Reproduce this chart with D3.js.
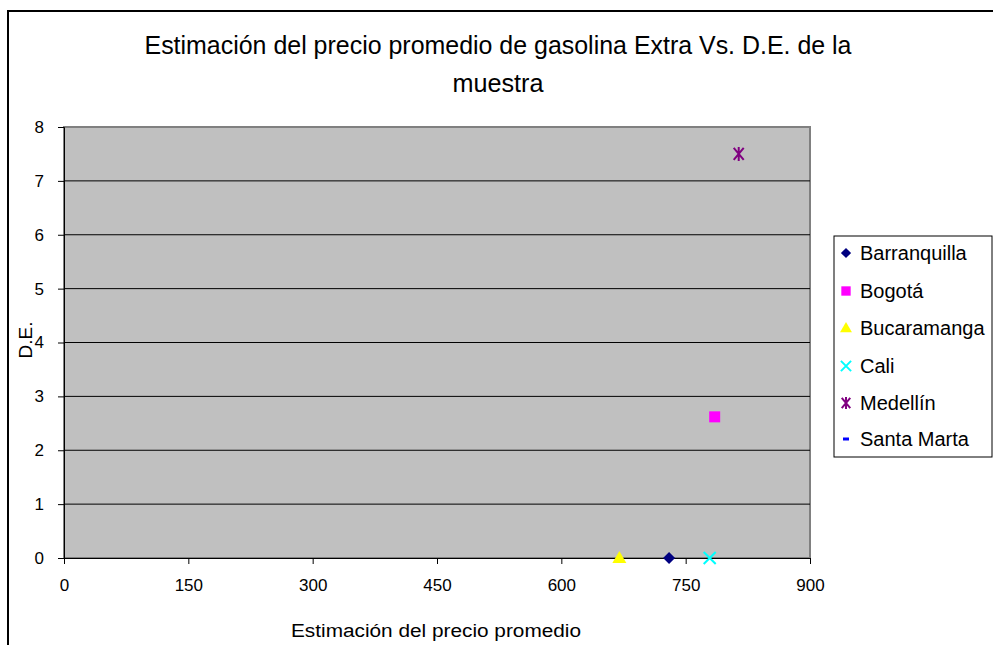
<!DOCTYPE html>
<html><head><meta charset="utf-8">
<script src="https://cdn.jsdelivr.net/npm/d3@7"></script>
<style>body{margin:0;background:#fff;}text{font-family:"Liberation Sans",Arial,sans-serif;}</style>
</head><body><svg id="c" width="993" height="645"></svg>
<script>
const series = ["Barranquilla","Bogotá","Bucaramanga","Cali","Medellín","Santa Marta"];
const xValues = [730, 785, 670, 779, 814, null];
const yValues = [0, 2.62, 0, 0, 7.5, null];
const colors = ["#000080","#FF00FF","#FFFF00","#00FFFF","#800080","#0000FF"];
const markers = ["diamond","square","triangle","x","star","dash"];
const xTicks = [0,150,300,450,600,750,900];
const yTicks = [0,1,2,3,4,5,6,7,8];

const svg = d3.select("#c");
svg.append("path").attr("d","M8,645 L8,11 L993,11").attr("fill","none").attr("stroke","#000").attr("stroke-width",2);

const L=64,R=810,T=127,B=558;
const x = d3.scaleLinear().domain([0,900]).range([L,R]);
const y = d3.scaleLinear().domain([0,8]).range([B,T]);

svg.append("rect").attr("x",L).attr("y",T).attr("width",R-L).attr("height",B-T).attr("fill","#C0C0C0").attr("stroke","#808080").attr("stroke-width",2);

svg.append("g").selectAll("line").data(yTicks.filter(d=>d>0 && d<8)).join("line")
  .attr("x1",L).attr("x2",R).attr("y1",d=>y(d)).attr("y2",d=>y(d)).attr("stroke","#000").attr("stroke-width",1);

const ax = svg.append("g").attr("transform",`translate(0,${B})`)
  .call(d3.axisBottom(x).tickValues(xTicks).tickSize(6).tickPadding(15).tickFormat(d3.format("d")));
const ay = svg.append("g").attr("transform",`translate(${L},0)`)
  .call(d3.axisLeft(y).tickValues(yTicks).tickSize(6).tickPadding(14).tickFormat(d3.format("d")));
[ax,ay].forEach(a=>{
  a.select(".domain").attr("stroke","#000");
  a.selectAll(".tick line").attr("stroke","#000");
  a.selectAll(".tick text").attr("font-size",17).attr("fill","#000").style("font-family","'Liberation Sans',Arial,sans-serif");
});

function drawMarker(g, type, color, k){
  k = k||1;
  if(type==="diamond") g.append("path").attr("d",`M0,${-6*k} L${6*k},0 L0,${6*k} L${-6*k},0 Z`).attr("fill",color);
  else if(type==="square") g.append("rect").attr("x",-5.5*k).attr("y",-5.5*k).attr("width",11*k).attr("height",11*k).attr("fill",color);
  else if(type==="triangle") g.append("path").attr("d",`M0,${-7*k} L${7*k},${5*k} L${-7*k},${5*k} Z`).attr("fill",color);
  else if(type==="x") g.append("path").attr("d",`M${-6*k},${-6*k} L${6*k},${6*k} M${-6*k},${6*k} L${6*k},${-6*k}`).attr("stroke",color).attr("stroke-width",2);
  else if(type==="star") g.append("path").attr("d",`M${-5*k},${-6*k} L${5*k},${6*k} M${-5*k},${6*k} L${5*k},${-6*k} M0,${-7*k} L0,${7*k}`).attr("stroke",color).attr("stroke-width",2);
  else if(type==="dash") g.append("path").attr("d","M-3,0 L3,0").attr("stroke",color).attr("stroke-width",3);
}
series.forEach((s,i)=>{
  if(xValues[i]==null) return;
  const g = svg.append("g").attr("transform",`translate(${x(xValues[i])},${y(yValues[i])})`);
  drawMarker(g, markers[i], colors[i], 1);
});

svg.append("text").attr("x",498).attr("y",54).attr("text-anchor","middle").attr("font-size",26)
  .attr("textLength",707).attr("lengthAdjust","spacingAndGlyphs").text("Estimación del precio promedio de gasolina Extra Vs. D.E. de la");
svg.append("text").attr("x",498).attr("y",92).attr("text-anchor","middle").attr("font-size",26)
  .attr("textLength",91).attr("lengthAdjust","spacingAndGlyphs").text("muestra");

svg.append("text").attr("x",436).attr("y",637).attr("text-anchor","middle").attr("font-size",18)
  .attr("textLength",290).attr("lengthAdjust","spacingAndGlyphs").text("Estimación del precio promedio");
svg.append("text").attr("transform","translate(32,340) rotate(-90)").attr("text-anchor","middle").attr("font-size",19).text("D.E.");

svg.append("rect").attr("x",834).attr("y",236).attr("width",158).attr("height",221).attr("fill","#fff").attr("stroke","#000").attr("stroke-width",1);
const ly = [253,291,328,366,403,439];
series.forEach((s,i)=>{
  const g = svg.append("g").attr("transform",`translate(846,${ly[i]})`);
  drawMarker(g, markers[i], colors[i], 0.85);
  svg.append("text").attr("x",860).attr("y",ly[i]+7).attr("font-size",20).text(s);
});
</script></body></html>
